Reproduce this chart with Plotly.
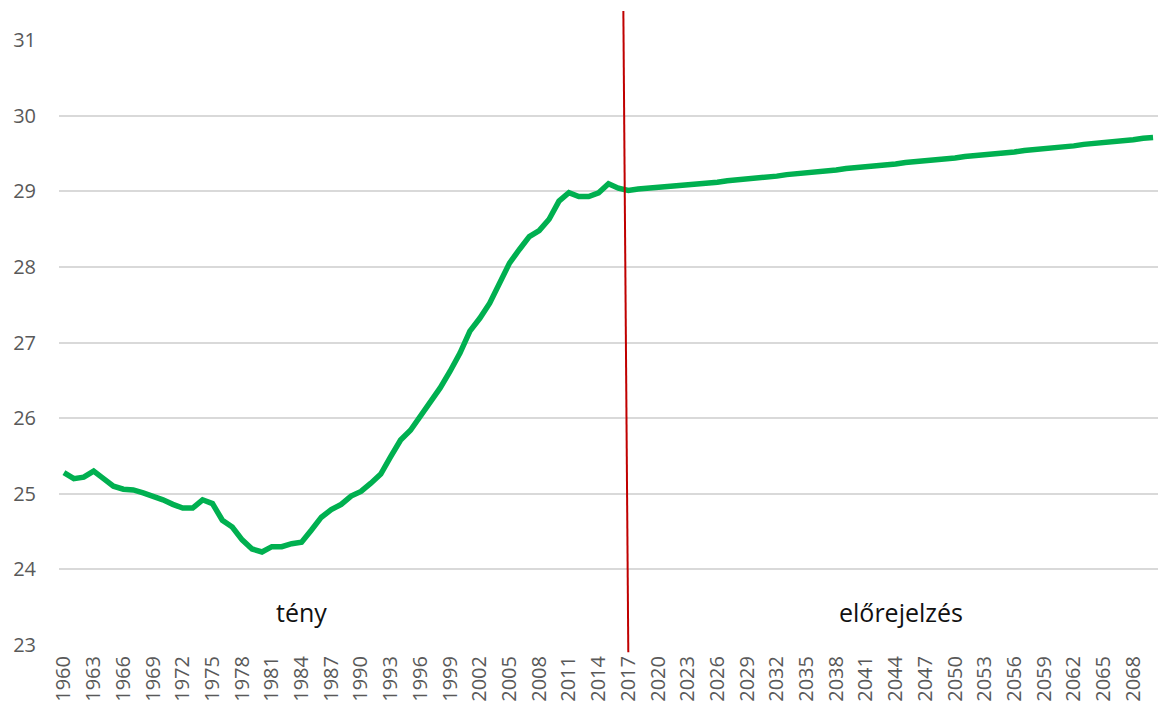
import plotly.graph_objects as go

# Observed period (tény)
years_actual = list(range(1960, 2018))
values_actual = [
    25.28, 25.20, 25.22, 25.30, 25.20, 25.10, 25.06, 25.05, 25.01, 24.97,
    24.92, 24.86, 24.81, 24.81, 24.92, 24.87, 24.65, 24.56, 24.39, 24.27,
    24.23, 24.30, 24.30, 24.34, 24.36, 24.52, 24.69, 24.79, 24.86, 24.97,
    25.03, 25.14, 25.26, 25.49, 25.71, 25.84, 26.02, 26.20, 26.40, 26.62,
    26.86, 27.15, 27.32, 27.52, 27.79, 28.05, 28.23, 28.40, 28.48, 28.63,
    28.87, 28.98, 28.93, 28.93, 28.98, 29.10, 29.04, 29.01,
]

# Projection (előrejelzés)
years_forecast = list(range(2018, 2071))
values_forecast = [
    29.03, 29.04, 29.05, 29.07, 29.08, 29.09, 29.10, 29.11, 29.12, 29.14,
    29.15, 29.16, 29.18, 29.19, 29.20, 29.22, 29.23, 29.24, 29.26, 29.27,
    29.28, 29.30, 29.31, 29.32, 29.34, 29.35, 29.36, 29.38, 29.39, 29.40,
    29.42, 29.43, 29.44, 29.46, 29.47, 29.48, 29.50, 29.51, 29.52, 29.54,
    29.55, 29.56, 29.58, 29.59, 29.60, 29.62, 29.63, 29.64, 29.66, 29.67,
    29.68, 29.70, 29.71,
]

x_ticks = [1960, 1963, 1966, 1969, 1972, 1975, 1978, 1981, 1984, 1987,
           1990, 1993, 1996, 1999, 2002, 2005, 2008, 2011, 2014, 2017,
           2020, 2023, 2026, 2029, 2032, 2035, 2038, 2041, 2044, 2047,
           2050, 2053, 2056, 2059, 2062, 2065, 2068]
y_ticks = [23, 24, 25, 26, 27, 28, 29, 30, 31]

split_year = 2017
labels = ["tény", "előrejelzés"]
label_years = [1984, 2044.5]
label_level = 23.43

years = years_actual + years_forecast
values = values_actual + values_forecast

tick_font = dict(family="Open Sans, sans-serif", size=20, color="#595959")

fig = go.Figure()
fig.add_trace(go.Scatter(
    x=years, y=values, mode="lines",
    line=dict(color="#00B050", width=5.5),
    hoverinfo="x+y", showlegend=False,
))

# Divider between observed and projected periods
fig.add_shape(
    type="line", xref="x", yref="paper",
    x0=split_year - 0.5, y0=1.048, x1=split_year, y1=-0.012,
    line=dict(color="#C00000", width=2),
)

for text, xv in zip(labels, label_years):
    fig.add_annotation(
        x=xv, y=label_level, xref="x", yref="y", text=text,
        showarrow=False, font=dict(family="Open Sans, sans-serif", size=25, color="#111111"),
    )

fig.update_layout(
    width=1158, height=710,
    margin=dict(l=59, r=0, t=40, b=65),
    paper_bgcolor="white", plot_bgcolor="white",
    xaxis=dict(
        range=[1959.5, 2070.5], tickmode="array", tickvals=x_ticks,
        ticktext=[str(t) for t in x_ticks], tickangle=-90, tickfont=tick_font,
        showgrid=False, zeroline=False, showline=False, ticks="",
        ticklabelstandoff=6,
    ),
    yaxis=dict(
        range=[23, 31], tickmode="array", tickvals=y_ticks, tickfont=tick_font,
        showgrid=True, gridcolor="#D9D9D9", gridwidth=1.5, zeroline=False,
        showline=False, ticks="", ticklabelstandoff=22,
    ),
)

fig.write_html("out.html")
